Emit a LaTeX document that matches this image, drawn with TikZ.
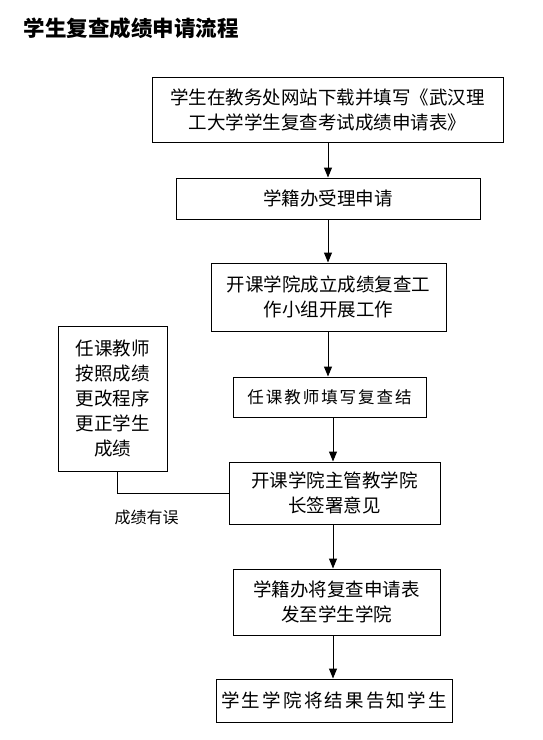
\documentclass[tikz,border=0pt]{standalone}
\usepackage{fontspec}
\setmainfont{Noto Sans CJK SC}
\usetikzlibrary{arrows.meta}

\tikzset{
  stepbox/.style={draw, line width=1pt, align=center, inner sep=0pt,
    font=\fontsize{18.5}{25}\selectfont},
  arr/.style={line width=1pt, -{Triangle[length=10pt,width=8pt]}}
}
\newcommand{\spaced}[2]{{\addfontfeature{LetterSpace=#1}#2}}

\begin{document}
\begin{tikzpicture}[x=1pt,y=-1pt]
\useasboundingbox (0,0) rectangle (543,740);
\node[anchor=west, font=\fontsize{21.5}{26}\selectfont\bfseries] (title) at (20,28) {学生复查成绩申请流程};

\node[stepbox, minimum width=351, minimum height=65] (download) at (327.5,109.5)
  {学生在教务处网站下载并填写《武汉理\\工大学学生复查考试成绩申请表》};
\node[stepbox, minimum width=304, minimum height=41] (accept) at (328,198.5) {学籍办受理申请};
\node[stepbox, minimum width=235, minimum height=68] (group) at (328.5,297)
  {开课学院成立成绩复查工\\作小组开展工作};
\node[stepbox, minimum width=193, minimum height=40, font=\fontsize{16.5}{22}\selectfont] (teacher) at (329.5,397)
  {\spaced{12}{任课教师填写复查结}};
\node[stepbox, minimum width=211, minimum height=62] (dean) at (334.5,493)
  {开课学院主管教学院\\长签署意见};
\node[stepbox, minimum width=207, minimum height=66] (send) at (336.5,602)
  {学籍办将复查申请表\\发至学生学院};
\node[stepbox, minimum width=236, minimum height=43] (notify) at (334,700.5)
  {\spaced{12}{学生学院将结果告知学生}};
\node[stepbox, minimum width=109, minimum height=145] (fix) at (112.5,398.5)
  {任课教师\\按照成绩\\更改程序\\更正学生\\成绩};

\coordinate (ax1) at (328,0);
\coordinate (ax2) at (333,0);
\coordinate (ax3) at (117,0);

\draw[arr] (download.south -| ax1) -- (accept.north -| ax1);
\draw[arr] (accept.south -| ax1) -- (group.north -| ax1);
\draw[arr] (group.south -| ax1) -- (teacher.north -| ax1);
\draw[arr] (teacher.south -| ax2) -- (dean.north -| ax2);
\draw[arr] (dean.south -| ax2) -- (send.north -| ax2);
\draw[arr] (send.south -| ax2) -- (notify.north -| ax2);

\draw[line width=1pt] (fix.south -| ax3) |- (dean.west);
\node[font=\fontsize{16}{20}\selectfont] (wrong) at (146.5,517) {成绩有误};
\end{tikzpicture}
\end{document}
